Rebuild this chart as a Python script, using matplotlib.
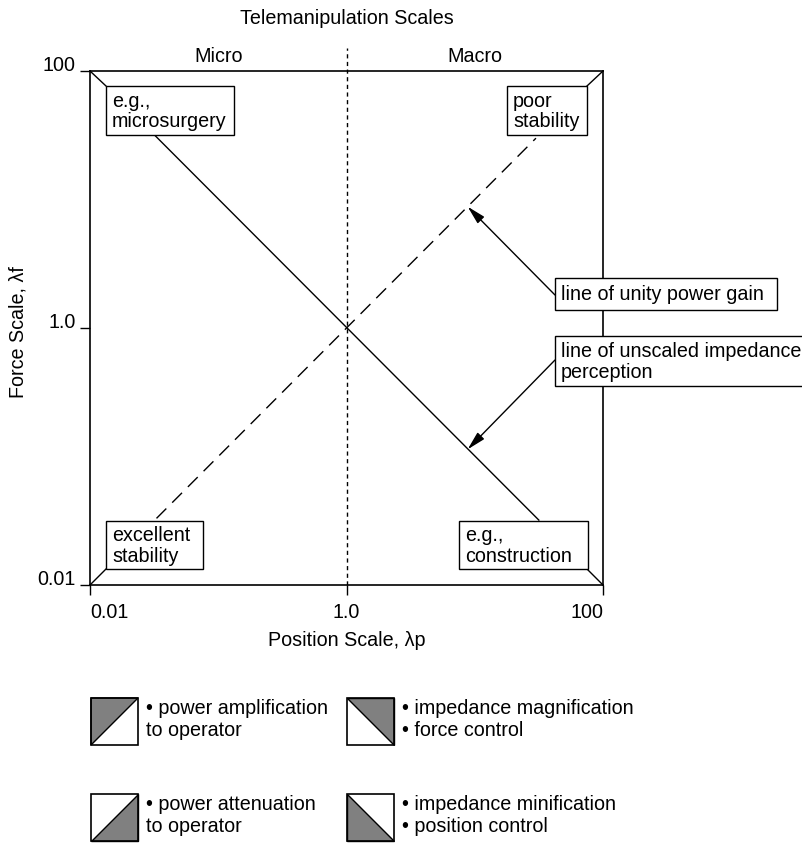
import matplotlib
matplotlib.use('Agg')
import matplotlib.pyplot as plt
from matplotlib.patches import Rectangle, Polygon
import matplotlib.transforms as mtransforms

plt.rcParams['font.family'] = ['Liberation Sans', 'DejaVu Sans']
FS = 14.2

# ---------------- data ----------------
scale_ticks = [0.01, 1.0, 100]
x_tick_labels = ['0.01', '1.0', '100']
y_tick_labels = ['0.01', '1.0', '100']
unity_power_lp = [0.033, 30.0]          # line of unity power gain (lf = lp)
unity_power_lf = [0.033, 30.0]
unscaled_imp_lp = [0.032, 31.6]         # line of unscaled impedance (lf = 1/lp)
unscaled_imp_lf = [31.6, 0.032]
boundary_lp = 1.0
arrow_power_target = (8.8, 8.8)
arrow_imp_target = (8.8, 1 / 8.8)
half_labels = ['Micro', 'Macro']
corner_labels = ['e.g.,\nmicrosurgery', 'poor\nstability',
                 'excellent\nstability', 'e.g.,\nconstruction']
callout_labels = ['line of unity power gain',
                  'line of unscaled impedance\nperception']
legend_labels = [['\u2022 power amplification', 'to operator'],
                 ['\u2022 impedance magnification', '\u2022 force control'],
                 ['\u2022 power attenuation', 'to operator'],
                 ['\u2022 impedance minification', '\u2022 position control']]

W, H = 802, 843
fig = plt.figure(figsize=(W / 100, H / 100), dpi=100)


def px(x0, y0, x1, y1):
    return [x0 / W, 1 - y1 / H, (x1 - x0) / W, (y1 - y0) / H]


ax = fig.add_axes(px(90, 71, 603, 585))
ax.set_zorder(1)
ax.set_xscale('log')
ax.set_yscale('log')
ax.set_xlim(0.01, 100)
ax.set_ylim(0.01, 100)
ax.set_xticks(scale_ticks)
ax.set_xticklabels(x_tick_labels)
ax.set_yticks(scale_ticks)
ax.set_yticklabels(y_tick_labels)
ax.minorticks_off()
for s in ax.spines.values():
    s.set_linewidth(1.2)
ax.tick_params(direction='out', length=7.2, width=1, labelsize=FS)
ax.tick_params(axis='y', pad=3)
ax.tick_params(axis='x', pad=6)
for lab, ha in zip(ax.get_xticklabels(), ['left', 'center', 'right']):
    lab.set_ha(ha)
for lab in ax.get_yticklabels():
    lab.set_va('baseline')

# data lines
ax.plot(unscaled_imp_lp, unscaled_imp_lf, color='k', lw=1.0)
ax.plot(unity_power_lp, unity_power_lf, color='k', lw=1.0, ls=(0, (10, 6)))
blend = mtransforms.blended_transform_factory(ax.transData, ax.transAxes)
ax.plot([boundary_lp, boundary_lp], [0, 1.045], transform=blend,
        clip_on=False, color='k', lw=1.0, ls=(0, (3, 2.5)))

ax.text(0.25, 1.028, half_labels[0], transform=ax.transAxes, ha='center',
        va='center', fontsize=FS)
ax.text(0.75, 1.028, half_labels[1], transform=ax.transAxes, ha='center',
        va='center', fontsize=FS)

# overlay in pixel coordinates
ov = fig.add_axes([0, 0, 1, 1])
ov.set_zorder(3)
ov.set_xlim(0, W)
ov.set_ylim(H, 0)
ov.axis('off')

# bevels
for (ox, oy), (ix, iy) in [((90, 71), (106, 86)), ((603, 71), (587, 86)),
                           ((90, 585), (106, 569)), ((603, 585), (587, 569))]:
    ov.plot([ox, ix], [oy, iy], color='k', lw=1.0)

# arrows
arrow_style = dict(arrowstyle='-|>,head_length=0.8,head_width=0.2',
                   lw=1.0, color='k', shrinkA=0, shrinkB=0, mutation_scale=14)
ov.annotate('', xy=arrow_power_target, xycoords=ax.transData,
            xytext=(555, 295), textcoords='data', arrowprops=arrow_style)
ov.annotate('', xy=arrow_imp_target, xycoords=ax.transData,
            xytext=(555, 360), textcoords='data', arrowprops=arrow_style)


def box(x0, y0, x1, y1, label):
    ov.add_patch(Rectangle((x0, y0), x1 - x0, y1 - y0, fc='white', ec='k',
                           lw=1.0, zorder=5))
    ov.text(x0 + 6, (y0 + y1) / 2 + 1, label, ha='left', va='center',
            fontsize=FS, linespacing=1.12, zorder=6)


box(106, 86, 234, 135, corner_labels[0])
box(507, 86, 587, 135, corner_labels[1])
box(106, 521, 203, 569, corner_labels[2])
box(459, 521, 588, 569, corner_labels[3])
box(555, 278, 777, 310, callout_labels[0])
box(555, 336, 830, 386, callout_labels[1])

# titles / axis labels
ov.text(347, 18, 'Telemanipulation Scales', ha='center', va='center',
        fontsize=FS)
ov.text(18, 332, 'Force Scale, \u03bbf', ha='center', va='center',
        rotation=90, fontsize=FS)
ov.text(347, 640, 'Position Scale, \u03bbp', ha='center', va='center',
        fontsize=FS)

# legend icons
GRAY = '#808080'
icons = [
    ((91, 698), 'tl'), ((347, 698), 'tr'),
    ((91, 794), 'br'), ((347, 794), 'bl'),
]
S = 47
for ((x0, y0), kind), lines, tx in zip(
        icons, legend_labels, [146, 402, 146, 402]):
    x1, y1 = x0 + S, y0 + S
    tri = {'tl': [(x0, y0), (x1, y0), (x0, y1)],
           'tr': [(x0, y0), (x1, y0), (x1, y1)],
           'br': [(x1, y0), (x1, y1), (x0, y1)],
           'bl': [(x0, y0), (x0, y1), (x1, y1)]}[kind]
    ov.add_patch(Polygon(tri, closed=True, fc=GRAY, ec='k', lw=1.0))
    ov.add_patch(Rectangle((x0, y0), S, S, fc='none', ec='k', lw=1.2))
    ov.text(tx, y0 + 10, lines[0], ha='left', va='center', fontsize=FS)
    ov.text(tx, y0 + 33, lines[1], ha='left', va='center', fontsize=FS)

fig.savefig('out.png', dpi=100)
